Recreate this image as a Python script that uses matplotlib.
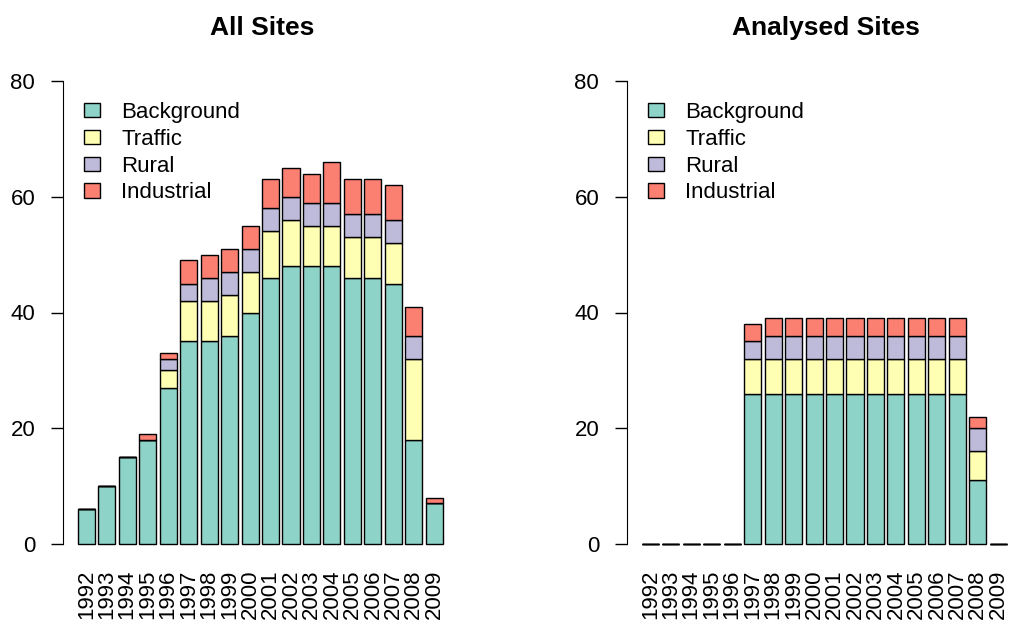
import numpy as np
import matplotlib
matplotlib.use("Agg")
import matplotlib.pyplot as plt

plt.rcParams['font.family'] = ['Liberation Sans', 'DejaVu Sans']

# years on the x axis
years = [str(y) for y in range(1992, 2010)]
categories = ["Background", "Traffic", "Rural", "Industrial"]
colors = ["#8DD3C7", "#FFFFB3", "#BEBADA", "#FB8072"]

# All Sites
all_background = [6, 10, 15, 18, 27, 35, 35, 36, 40, 46, 48, 48, 48, 46, 46, 45, 18, 7]
all_traffic    = [0, 0, 0, 0, 3, 7, 7, 7, 7, 8, 8, 7, 7, 7, 7, 7, 14, 0]
all_rural      = [0, 0, 0, 0, 2, 3, 4, 4, 4, 4, 4, 4, 4, 4, 4, 4, 4, 0]
all_industrial = [0, 0, 0, 1, 1, 4, 4, 4, 4, 5, 5, 5, 7, 6, 6, 6, 5, 1]

# Analysed Sites
an_background = [0, 0, 0, 0, 0, 26, 26, 26, 26, 26, 26, 26, 26, 26, 26, 26, 11, 0]
an_traffic    = [0, 0, 0, 0, 0, 6, 6, 6, 6, 6, 6, 6, 6, 6, 6, 6, 5, 0]
an_rural      = [0, 0, 0, 0, 0, 3, 4, 4, 4, 4, 4, 4, 4, 4, 4, 4, 4, 0]
an_industrial = [0, 0, 0, 0, 0, 3, 3, 3, 3, 3, 3, 3, 3, 3, 3, 3, 2, 0]


def stacked(ax, series, title):
    # R-style barplot positions: width 1, space 0.2
    x = 0.7 + 1.2 * np.arange(len(years))
    bottom = np.zeros(len(years))
    for vals, lab, col in zip(series, categories, colors):
        vals = np.array(vals, dtype=float)
        ax.bar(x, vals, width=1.0, bottom=bottom, color=col,
               edgecolor="black", linewidth=1.0, label=lab)
        bottom += vals
    ax.set_xlim(-0.664, 22.664)
    ax.set_ylim(-3.2, 83.2)
    ax.set_xticks(x)
    ax.set_xticklabels(years, rotation=90, fontsize=16)
    ax.tick_params(axis="x", length=0, pad=5)
    ax.set_yticks([0, 20, 40, 60, 80])
    ax.tick_params(axis="y", length=9, width=1.0, labelsize=16, pad=11)
    for s in ["top", "right", "bottom"]:
        ax.spines[s].set_visible(False)
    ax.spines["left"].set_bounds(0, 80)
    ax.set_title(title, fontsize=19, fontweight="bold", pad=19.5)
    ax.legend(loc="upper left", bbox_to_anchor=(0.053, 0.921), frameon=False,
              fontsize=16, borderpad=0, borderaxespad=0, handlelength=0.72,
              handleheight=0.6, handletextpad=0.95, labelspacing=0.26)


fig = plt.figure(figsize=(10.1, 6.2), dpi=100)
ax1 = fig.add_axes([63 / 1010, 57.5 / 620, 398 / 1010, 500 / 620])
ax2 = fig.add_axes([627 / 1010, 57.5 / 620, 398 / 1010, 500 / 620])

stacked(ax1, [all_background, all_traffic, all_rural, all_industrial], "All Sites")
stacked(ax2, [an_background, an_traffic, an_rural, an_industrial], "Analysed Sites")

plt.savefig("out.png", dpi=100)
